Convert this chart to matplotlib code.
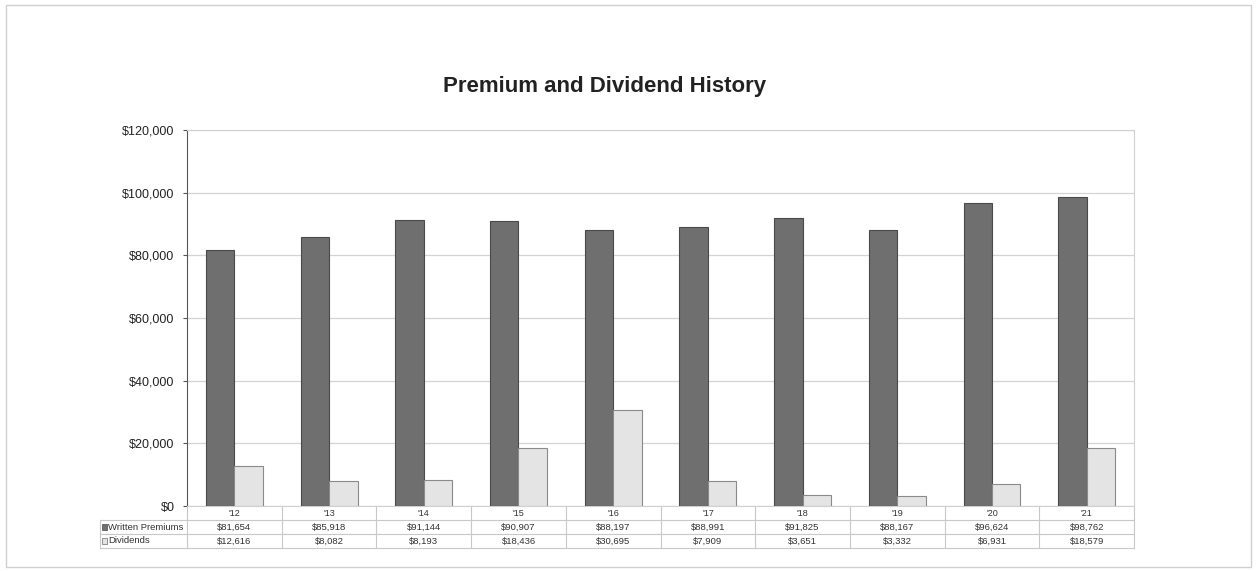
import matplotlib.pyplot as plt
from matplotlib.patches import Rectangle
from matplotlib.ticker import FuncFormatter
import matplotlib.transforms as mtransforms

plt.rcParams['font.family'] = ['Liberation Sans', 'DejaVu Sans']

# Chart data
years = ["'12", "'13", "'14", "'15", "'16", "'17", "'18", "'19", "'20", "'21"]
written_premiums = [81654, 85918, 91144, 90907, 88197, 88991, 91825, 88167, 96624, 98762]
dividends = [12616, 8082, 8193, 18436, 30695, 7909, 3651, 3332, 6931, 18579]
premium_labels = ["$81,654", "$85,918", "$91,144", "$90,907", "$88,197",
                  "$88,991", "$91,825", "$88,167", "$96,624", "$98,762"]
dividend_labels = ["$12,616", "$8,082", "$8,193", "$18,436", "$30,695",
                   "$7,909", "$3,651", "$3,332", "$6,931", "$18,579"]

dark_color = '#6f6f6f'
light_color = '#e4e4e4'

fig = plt.figure(figsize=(12.57, 5.71), dpi=100)

# Outer chart frame
fig.patches.append(Rectangle((0.005, 0.007), 0.99, 0.984, transform=fig.transFigure,
                             fill=False, edgecolor='#d0d0d0', linewidth=1.0))

ax = fig.add_axes([0.1488, 0.1138, 0.7534, 0.6585])

n = len(years)
x = list(range(n))
width = 0.3
ax.bar([i - width / 2 for i in x], written_premiums, width, color=dark_color,
       edgecolor='#4a4a4a', linewidth=0.8, zorder=3)
ax.bar([i + width / 2 for i in x], dividends, width, color=light_color,
       edgecolor='#8a8a8a', linewidth=0.8, zorder=3)

ax.set_xlim(-0.5, n - 0.5)
ax.set_ylim(0, 120000)
ax.set_yticks(range(0, 120001, 20000))
ax.yaxis.set_major_formatter(FuncFormatter(lambda v, p: f"${int(v):,}"))
ax.tick_params(axis='y', labelsize=9, length=3, color='#555555', pad=6, labelcolor='#222222')
ax.set_xticks([])
ax.grid(axis='y', color='#d4d4d4', linewidth=0.9, zorder=0)

for side in ['top', 'right', 'bottom']:
    ax.spines[side].set_color('#d0d0d0')
ax.spines['left'].set_color('#555555')

fig.text(0.481, 0.849, "Premium and Dividend History", ha='center', va='center',
         fontsize=16, fontweight='bold', color='#222222')

# Data table below the axes
trans = mtransforms.blended_transform_factory(ax.transData, ax.transAxes)
row_h = 0.0372
fs = 6.8
line_kw = dict(transform=trans, color='#c8c8c8', linewidth=0.8, clip_on=False)
label_left = -0.5 - 87 / 94.7

for r in range(1, 4):
    ax.plot([label_left, n - 0.5], [-r * row_h, -r * row_h], **line_kw)
ax.plot([label_left, label_left], [-row_h, -3 * row_h], **line_kw)
for i in range(n + 1):
    ax.plot([i - 0.5, i - 0.5], [0, -3 * row_h], **line_kw)

for i in x:
    ax.text(i, -0.5 * row_h, years[i], transform=trans, ha='center', va='center',
            fontsize=6.5, color='#333333')
    ax.text(i, -1.5 * row_h, premium_labels[i], transform=trans, ha='center', va='center',
            fontsize=fs, color='#333333')
    ax.text(i, -2.5 * row_h, dividend_labels[i], transform=trans, ha='center', va='center',
            fontsize=fs, color='#333333')

# Legend keys inside the table
key = 0.045
ax.add_patch(Rectangle((label_left + 0.025, -1.5 * row_h - 0.008), key, 0.016, transform=trans,
                       facecolor=dark_color, edgecolor='#4a4a4a', linewidth=0.5, clip_on=False))
ax.add_patch(Rectangle((label_left + 0.025, -2.5 * row_h - 0.008), key, 0.016, transform=trans,
                       facecolor=light_color, edgecolor='#6a6a6a', linewidth=0.5, clip_on=False))
ax.text(label_left + 0.085, -1.5 * row_h, "Written Premiums", transform=trans, ha='left',
        va='center', fontsize=fs, color='#333333')
ax.text(label_left + 0.085, -2.5 * row_h, "Dividends", transform=trans, ha='left',
        va='center', fontsize=fs, color='#333333')

fig.savefig("out.png", dpi=100)
